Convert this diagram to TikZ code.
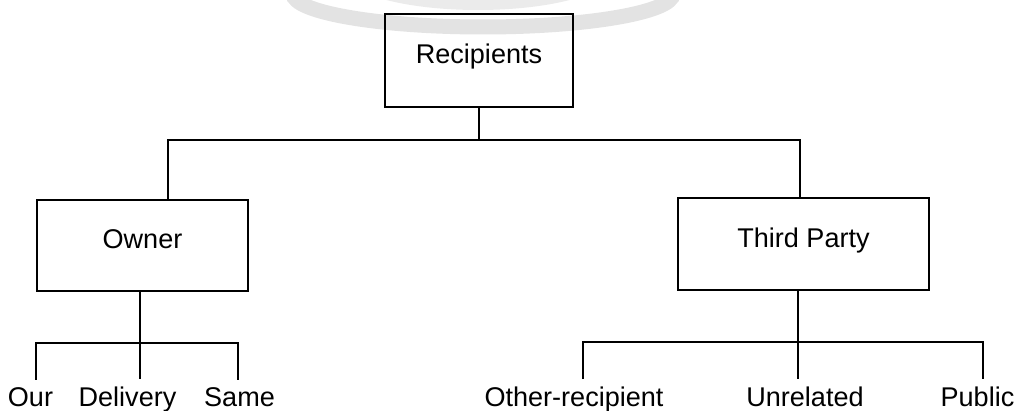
\documentclass[tikz,border=0pt]{standalone}
\usepackage{fontspec}
\setmainfont{Liberation Sans}
\usepackage{tikz}

\tikzset{
  box/.style={draw, line width=1pt, text height=0.8em, text depth=0.45em, inner sep=0pt},
  leaf/.style={anchor=base, inner xsep=0pt, inner ysep=4.5pt},
  wire/.style={line width=1pt},
}

\begin{document}
\begin{tikzpicture}[x=0.02cm, y=-0.02cm, font=\fontsize{15.4}{18}\selectfont]

        \useasboundingbox (0,0) rectangle (1022,411);

        % faint watermark at the top
        \begin{scope}
            \clip (0,0) rectangle (1022,411);
            \draw[gray!22, line width=0.3cm] (483,-6) ellipse [x radius=190, y radius=33];
            \draw[gray!16, line width=0.2cm] (478,-30) ellipse [x radius=130, y radius=35];
        \end{scope}

        \node[box, minimum width=3.76cm, minimum height=1.86cm] (rec) at (479,60.5) {Recipients};
        \node[box, minimum width=4.22cm, minimum height=1.82cm] (own) at (142.5,245.5) {Owner};
        \node[box, minimum width=5.02cm, minimum height=1.84cm] (tp) at (803.5,244) {Third Party};

        \node[leaf] (our) at (30.5,407) {Our};
        \node[leaf] (deliv) at (127.5,407) {Delivery};
        \node[leaf] (same) at (239.5,407) {Same};
        \node[leaf] (other) at (574,407) {Other-recipient};
        \node[leaf] (unrel) at (805,407) {Unrelated};
        \node[leaf] (pub) at (977.5,407) {Public};

        \coordinate (lb) at (168,140);
        \coordinate (rb) at (800,140);
        \draw[wire] (rec.south) -- (rec.south |- lb);
        \draw[wire] (lb |- own.north) -- (lb) -- (rb) -- (rb |- tp.north);

        \coordinate (o1) at (36,343);
        \coordinate (o2) at (140,343);
        \coordinate (o3) at (238,343);
        \draw[wire] (o2 |- own.south) -- (o2 |- deliv.north);
        \draw[wire] (o1 |- our.north) -- (o1) -- (o3) -- (o3 |- same.north);

        \coordinate (t1) at (583,342);
        \coordinate (t2) at (798,342);
        \coordinate (t3) at (983,342);
        \draw[wire] (t2 |- tp.south) -- (t2 |- unrel.north);
        \draw[wire] (t1 |- other.north) -- (t1) -- (t3) -- (t3 |- pub.north);

    \end{tikzpicture}
\end{document}
